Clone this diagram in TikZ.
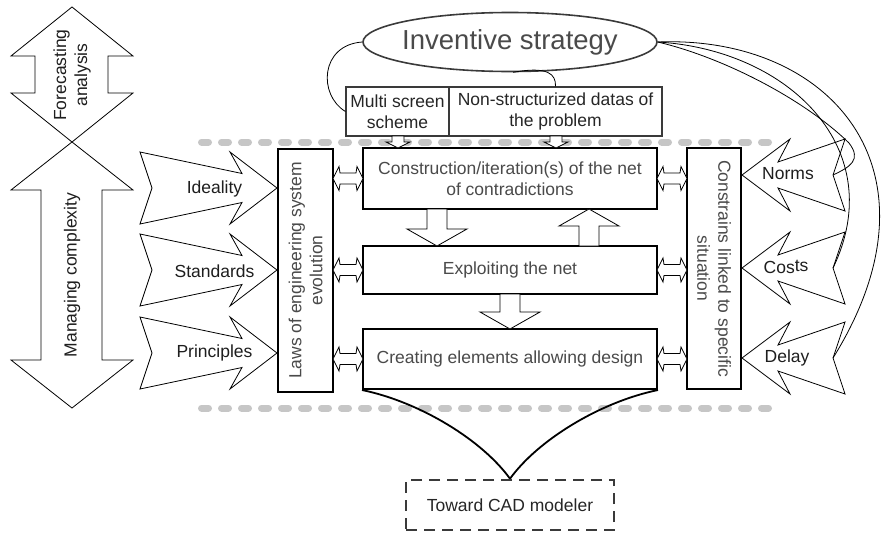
\documentclass[tikz,border=0pt]{standalone}
\usepackage{fontspec}
\setmainfont{Liberation Sans}
\usetikzlibrary{shapes.geometric}
\definecolor{txt}{HTML}{4A4A4A}
\definecolor{lbl}{HTML}{1E1E1E}
\definecolor{dotc}{HTML}{C6C6C6}
\definecolor{frame}{HTML}{3A3A3A}
% block arrow shapes
\newcommand\inarrowR[2]{% tip x, centre y, pointing right
  \draw[blockarrow] ({#1-137},{#2-36}) -- ({#1-35},{#2-14.5}) -- ({#1-47},{#2-36}) -- (#1,#2)
    -- ({#1-47},{#2+36}) -- ({#1-35},{#2+14.5}) -- ({#1-137},{#2+36}) -- ({#1-125},#2) -- cycle;}
\newcommand\inarrowL[2]{% tip x, centre y, pointing left
  \draw[blockarrow] ({#1+103},{#2-36}) -- ({#1+36},{#2-13}) -- ({#1+48},{#2-36}) -- (#1,#2)
    -- ({#1+48},{#2+36}) -- ({#1+36},{#2+13}) -- ({#1+103},{#2+36}) -- ({#1+91},#2) -- cycle;}
\newcommand\dblarr[3]{% x1, x2, y
  \draw[blockarrow] (#1,#3) -- ({#1+6},{#3-12}) -- ({#1+7},{#3-5.5}) -- ({#2-7},{#3-5.5})
    -- ({#2-6},{#3-12}) -- (#2,#3) -- ({#2-6},{#3+12}) -- ({#2-7},{#3+5.5}) -- ({#1+7},{#3+5.5})
    -- ({#1+6},{#3+12}) -- cycle;}
\newcommand\vdown[3]{% x, y start, y tip
  \draw[blockarrow] ({#1-10},#2) -- ({#1+10},#2) -- ({#1+10},{#3-17}) -- ({#1+30},{#3-17})
    -- (#1,#3) -- ({#1-30},{#3-17}) -- ({#1-10},{#3-17}) -- cycle;}
\newcommand\vup[3]{% x, y start, y tip
  \draw[blockarrow] ({#1-10},#2) -- ({#1+10},#2) -- ({#1+10},{#3+17}) -- ({#1+30},{#3+17})
    -- (#1,#3) -- ({#1-30},{#3+17}) -- ({#1-10},{#3+17}) -- cycle;}
\newcommand\smalldown[3]{% x, y start, y tip
  \draw[blockarrow] ({#1-6},#2) -- ({#1+6},#2) -- ({#1+6},{#3-6}) -- ({#1+12},{#3-6})
    -- (#1,#3) -- ({#1-12},{#3-6}) -- ({#1-6},{#3-6}) -- cycle;}
\begin{document}
\begin{tikzpicture}[x=1pt,y=-1pt,
  every node/.style={font=\fontsize{17.5}{21}\selectfont, inner sep=0pt, align=center},
  blockarrow/.style={draw=black, line width=0.8pt, fill=white, line join=miter},
  thickbox/.style={draw=black, line width=2pt, fill=white},
  thinbox/.style={draw=frame, line width=1.1pt, fill=white},
  boxtext/.style={text=txt},
  lbltext/.style={text=lbl},
  dots/.style={draw=dotc, line width=7pt, line cap=round, dash pattern=on 7pt off 13pt},
  link/.style={draw=black, line width=0.8pt},
  thicklink/.style={draw=black, line width=1.8pt},
]
\useasboundingbox (0,0) rectangle (881,533);

% dotted frame lines
\draw[dots] (201.5,142) -- (772,142);
\draw[dots] (201.5,408) -- (772,408);

% big vertical double arrows
\draw[blockarrow] (72,7) -- (133,56) -- (108,56) -- (108,93) -- (133,93) -- (72,142)
  -- (11,93) -- (35,93) -- (35,56) -- (11,56) -- cycle;
\draw[blockarrow] (72,142) -- (133,190) -- (102,190) -- (102,360) -- (133,360) -- (72,408)
  -- (11,360) -- (41,360) -- (41,190) -- (11,190) -- cycle;
\node[lbltext, rotate=90] (fore) at (72,75) {Forecasting\\analysis};
\node[lbltext, rotate=90] (manag) at (72,275) {Managing complexity};

% left input arrows
\inarrowR{277}{188}
\inarrowR{277}{270}
\inarrowR{277}{353}
\node[lbltext] (ideal) at (214.5,189) {Ideality};
\node[lbltext] (stand) at (214.5,271) {Standards};
\node[lbltext] (princ) at (214.5,353) {Principles};

% laws box
\node[thickbox, boxtext, rotate=90, minimum width=243pt, minimum height=55pt] (laws)
  at (305.5,270.5) {Laws of engineering system\\evolution};

% central boxes
\node[thickbox, boxtext, minimum width=294pt, minimum height=61pt] (b1) at (510,178.5)
  {Construction/iteration(s) of the net\\of contradictions};
\node[thickbox, boxtext, minimum width=294pt, minimum height=48pt] (b2) at (510,270)
  {Exploiting the net};
\node[thickbox, boxtext, minimum width=294pt, minimum height=60pt] (b3) at (510,359)
  {Creating elements allowing design};

% right box
\node[thickbox, boxtext, rotate=-90, minimum width=241pt, minimum height=54pt] (cons)
  at (714,268.5) {Constrains linked to specific\\situation};

% small double arrows
\dblarr{333}{363}{178.5}
\dblarr{333}{363}{270}
\dblarr{333}{363}{359}
\dblarr{657}{687}{178.5}
\dblarr{657}{687}{270}
\dblarr{657}{687}{359}

% vertical block arrows between central boxes
\vdown{437}{209}{246}
\vup{589}{246}{209}
\vdown{510}{294}{329}

% top boxes
\node[thinbox, text=black!85, minimum width=103pt, minimum height=49pt] (ms) at (397.5,111.5)
  {Multi screen\\scheme};
\node[thinbox, text=black!85, minimum width=213pt, minimum height=49pt] (ns) at (555.5,111.5)
  {Non-structurized datas of\\the problem};
\smalldown{398}{136}{148}
\smalldown{556}{136}{148}

% inventive strategy
\node[draw=frame, line width=1.6pt, ellipse, minimum width=294pt, minimum height=59pt] (inv)
  at (510,42) {};
\node[text=txt, font=\fontsize{27.5}{30}\selectfont] (invt) at (inv.center) {Inventive strategy};

% right input arrows
\inarrowL{742}{175}
\inarrowL{742}{268}
\inarrowL{742}{358}
\coordinate (nnotch) at (833,175);
\coordinate (cnotch) at (833,268);
\coordinate (dnotch) at (833,358);
\node[lbltext] (norms) at (788,174) {Norms};
\node[lbltext] (costs) at (786,267) {Cos\raisebox{2.5pt}{ts}};
\node[lbltext] (delay) at (787,358) {Delay};

% links from the strategy
\draw[link] (inv.west) .. controls (320,45) and (318,95) .. (ms.west);
\draw[link] (inv.-84) .. controls (548,66) and (556,74) .. (ns.north);
\draw[link] (inv.east) .. controls (725,58) and (805,100) .. (849,143)
  .. controls (862,160) and (850,167) .. (nnotch);
\draw[link] (inv.east) .. controls (790,50) and (890,150) .. (cnotch);
\draw[link] (inv.east) .. controls (830,35) and (950,170) .. (dnotch);

% toward CAD
\node[draw=frame, line width=2.6pt, dash pattern=on 11pt off 7pt, text=black!85,
  minimum width=208pt, minimum height=50pt] (cad) at (510,505) {Toward CAD modeler};
\draw[thicklink] (b3.south west) .. controls (420,402) and (482,440) .. (cad.north);
\draw[thicklink] (b3.south east) .. controls (600,402) and (538,440) .. (cad.north);
\end{tikzpicture}
\end{document}
